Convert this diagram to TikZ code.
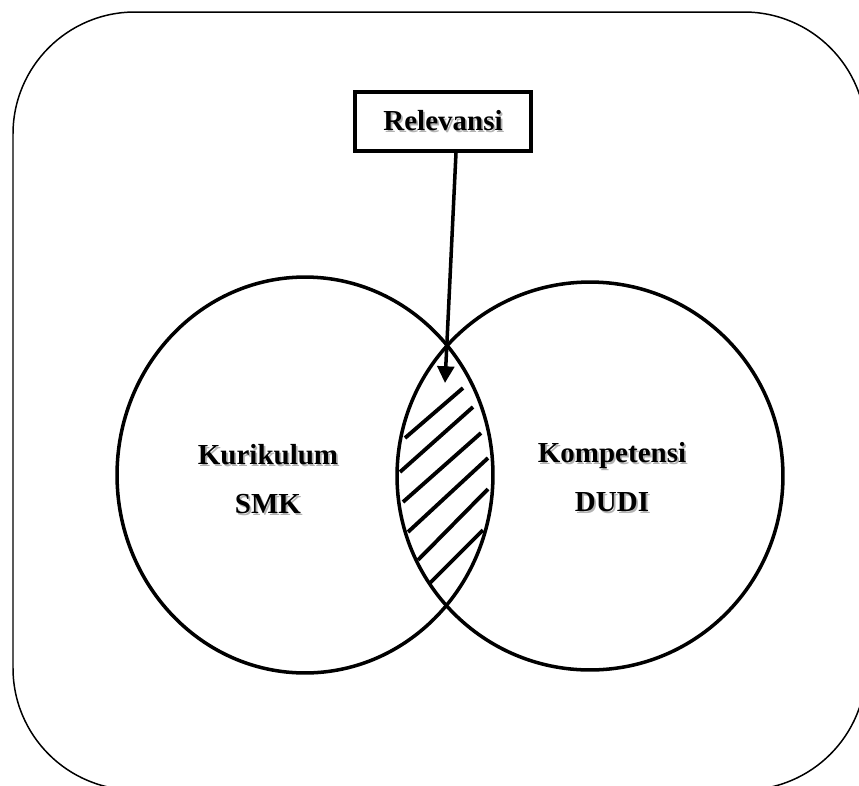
\documentclass[tikz,border=0pt]{standalone}
\usepackage{fontspec}
\setmainfont{Liberation Serif}
\usetikzlibrary{arrows.meta,shapes.geometric}
\newcommand\shadowed[1]{\leavevmode\rlap{\kern1pt\raisebox{-1pt}{\color{black!30}#1}}#1}

\begin{document}
\begin{tikzpicture}[x=0.02cm,y=-0.02cm]
  \tikzset{set/.style={ellipse,draw,line width=2pt,inner sep=0pt},
    label text/.style={font=\fontsize{16.5}{28}\selectfont\bfseries,align=center},
    hatch/.style={line width=2.2pt},
    arr/.style={line width=2pt,-{Triangle[length=9.5pt,width=9.5pt]}}}
  \clip (0,0) rectangle (859,785);
  \draw [line width=0.85pt,rounded corners=2.44cm] (13,12) rectangle (866,790);

  \node [set,minimum width=7.52cm,minimum height=7.92cm] (smk) at (305,475) {};
  \node [set,minimum width=7.72cm,minimum height=7.76cm] (dudi) at (590,476) {};

  % arsiran irisan
  \foreach \xa/\ya/\xb/\yb in {405/438/463/388, 400/472/473/407, 403/502/481/433,
                               408/532/488/458, 418/560/488/489, 430/583/483/530}
    \draw [hatch] (\xa,\ya) -- (\xb,\yb);

  \node [draw,line width=2.2pt,minimum width=3.52cm,minimum height=1.18cm,
         font=\fontsize{16.5}{28}\selectfont\bfseries] (rel) at (443,121.5) {\shadowed{Relevansi}};
  \coordinate (tip) at (445,383);
  \draw [arr] ([xshift=0.26cm]rel.south) -- (tip);

  \node [label text] (smktext) at (268,480) {\shadowed{Kurikulum}\\\shadowed{SMK}};
  \node [label text] (duditext) at (612,478) {\shadowed{Kompetensi}\\\shadowed{DUDI}};
\end{tikzpicture}
\end{document}
